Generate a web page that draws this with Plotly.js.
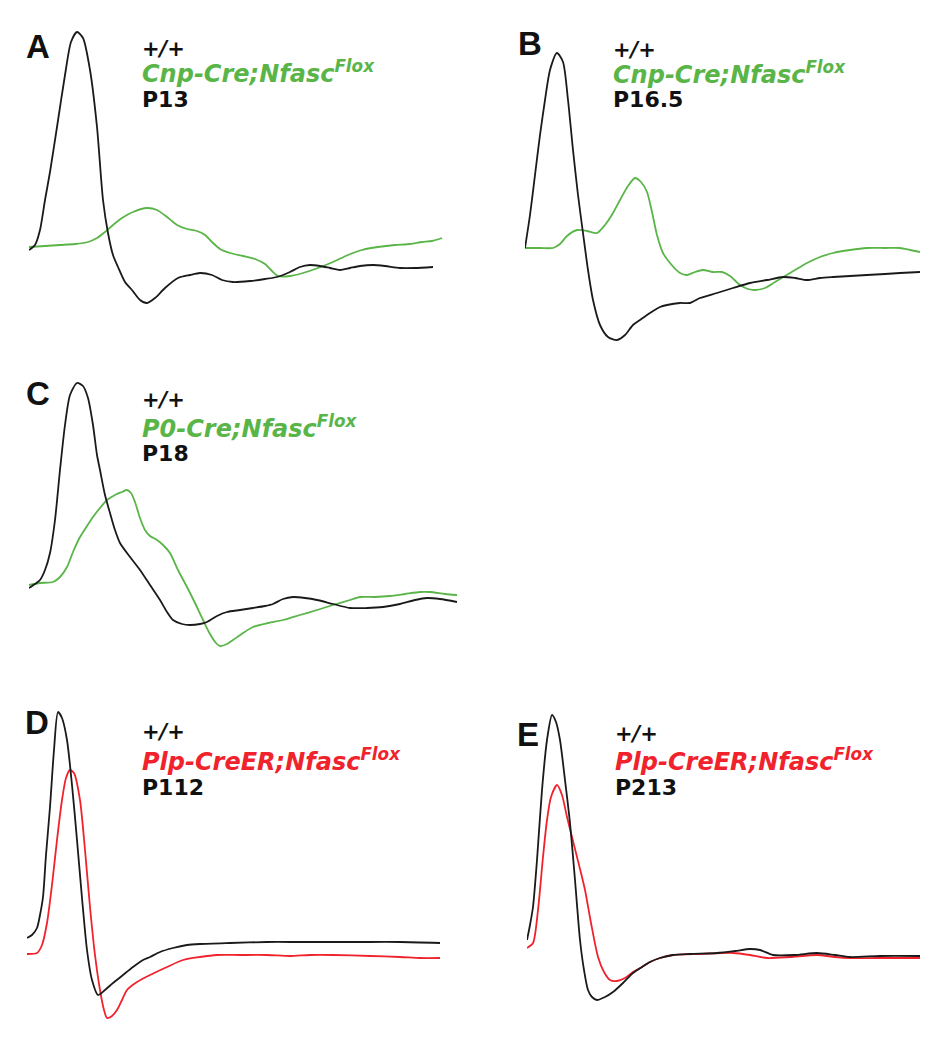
<!DOCTYPE html>
<html>
<head>
<meta charset="utf-8">
<script src="https://cdn.plot.ly/plotly-3.0.1.min.js"></script>
<style>html,body{margin:0;padding:0;background:#fff;}#chart{width:942px;height:1050px;}</style>
</head>
<body>
<div id="chart"></div>
<script>
// ---- Data (time in arbitrary units from stimulus, amplitude in arbitrary units relative to baseline) ----
// Panel A: +/+ vs Cnp-Cre;Nfasc Flox, P13
const tA_wt   = [0,6,11,16,21,28,36,42,48,54,61,68,74,79,84,89,96,103,111,118,126,136,149,161,171,183,193,204,221,236,248,261,271,281,291,301,311,321,331,344,356,371,386,404];
const vA_wt   = [0,5,20,50,78,123,175,208,218,212,180,123,50,17,-5,-17,-32,-40,-50,-53,-48,-38,-28,-25,-23,-25,-30,-32,-31,-29,-27,-22,-17,-15,-16,-18,-20,-18,-16,-15,-16,-18,-18,-17];
const tA_mut  = [0,16,31,46,59,68,76,84,93,104,118,128,138,148,158,168,176,183,191,201,214,226,236,243,249,261,274,289,304,319,333,349,366,381,393,403,413];
const vA_mut  = [3,4,5,6,8,12,18,25,32,38,42,40,33,25,21,19,15,8,1,-3,-6,-9,-14,-21,-26,-26,-23,-18,-12,-5,0,3,5,6,8,9,12];
// Panel B: P16.5
const tB_wt   = [0,5,10,15,20,25,32,38,43,48,53,58,63,68,75,83,92,100,108,115,125,135,142,155,165,175,192,208,225,242,258,270,282,295,308,325,342,360,375,395];
const vB_wt   = [0,33,73,113,148,178,195,186,148,98,53,15,-22,-52,-77,-89,-92,-87,-77,-72,-65,-59,-57,-55,-55,-50,-45,-40,-35,-32,-29,-30,-32,-30,-29,-28,-27,-26,-25,-24];
const tB_mut  = [0,15,28,35,42,52,62,72,80,88,95,103,110,116,122,127,132,138,145,155,162,170,178,188,197,205,215,223,230,240,250,260,270,282,295,308,325,342,360,375,385,395];
const vB_mut  = [0,0,0,4,12,18,17,15,23,35,48,62,70,66,56,36,13,-5,-15,-25,-27,-24,-22,-24,-24,-28,-37,-41,-42,-40,-34,-28,-22,-15,-9,-5,-2,0,0,0,-2,-4];
// Panel C: P0-Cre;Nfasc Flox, P18
const tC_wt   = [0,6,11,16,21,26,31,36,41,48,54,59,64,68,71,76,81,86,91,101,111,121,131,138,144,153,161,171,178,188,198,211,224,236,244,254,264,276,288,304,321,338,354,371,386,398,411,428];
const vC_wt   = [0,4,8,18,35,68,118,163,193,205,202,190,163,133,118,93,75,58,45,31,18,3,-12,-24,-32,-36,-37,-36,-34,-28,-24,-22,-20,-18,-16,-11,-9,-10,-12,-16,-20,-20,-19,-16,-12,-10,-11,-14];
const tC_mut  = [0,11,24,31,38,44,51,58,64,71,78,86,93,98,102,106,111,116,121,128,134,141,149,158,166,174,181,187,191,198,204,214,224,239,254,271,288,304,321,331,346,361,376,391,401,416,428];
const vC_mut  = [3,5,6,11,21,36,51,62,71,80,88,93,96,98,95,86,70,58,52,48,43,35,18,1,-15,-32,-46,-55,-58,-56,-52,-45,-39,-35,-32,-27,-22,-17,-12,-9,-9,-8,-6,-4,-4,-6,-7];
// Panel D: Plp-CreER;Nfasc Flox, P112
const tD_wt   = [0,5,10,13,16,19,23,27,31,35,40,45,50,55,60,65,71,78,86,96,106,116,123,133,146,160,173,203,240,273,306,343,373,413];
const vD_wt   = [0,3,10,23,41,83,131,188,226,220,198,153,98,40,-12,-42,-57,-52,-45,-37,-29,-22,-19,-14,-10,-7,-6,-5,-4,-4,-4,-4,-4,-5];
const tD_mut  = [0,10,15,20,25,30,35,39,43,47,53,58,63,68,73,77,80,85,90,95,100,110,123,140,156,173,190,213,240,263,283,306,343,373,393,413];
const vD_mut  = [-16,-15,-7,15,53,98,138,160,168,165,138,88,31,-17,-52,-72,-80,-78,-72,-62,-52,-44,-37,-29,-22,-19,-17,-17,-17,-18,-17,-17,-18,-19,-20,-20];
// Panel E: Plp-CreER;Nfasc Flox, P213
const tE_wt   = [0,3,6,10,15,20,25,29,33,38,43,48,53,57,61,65,70,78,86,96,106,115,123,133,146,163,190,208,223,233,246,268,290,308,323,353,393];
const vE_wt   = [0,15,33,80,150,200,225,218,200,160,117,60,0,-30,-50,-57,-60,-57,-52,-43,-33,-27,-22,-18,-15,-14,-13,-11,-9,-10,-15,-15,-13,-15,-17,-16,-16];
const tE_mut  = [0,6,11,16,20,24,30,35,40,45,50,54,58,64,71,77,83,90,98,106,115,123,133,146,173,206,223,240,263,290,308,323,353,393];
const vE_mut  = [-8,-3,30,83,120,143,155,145,123,103,83,67,50,17,-17,-32,-40,-41,-38,-32,-27,-22,-18,-15,-14,-13,-15,-18,-17,-15,-17,-18,-18,-18];

// Labels
const panelLetters = ["A","B","C","D","E"];
const wtLabel = "+/+";
const mutantLabels = ["Cnp-Cre;Nfasc","Cnp-Cre;Nfasc","P0-Cre;Nfasc","Plp-CreER;Nfasc","Plp-CreER;Nfasc"];
const mutantSup = "Flox";
const ages = ["P13","P16.5","P18","P112","P213"];

// ---- Layout frames (pixels) ----
const W = 942, H = 1050;
const GREEN = '#5ab548', RED = '#f0232d';
const frames = [
  {x0:29,  w:420, top:20,  bot:320,  base:250, tx:140, ty:[49,72,99],    lx:38,  ly:46,  mutColor:GREEN},
  {x0:525, w:410, top:20,  bot:360,  base:248, tx:611, ty:[50,73,99],    lx:530, ly:44,  mutColor:GREEN},
  {x0:29,  w:430, top:360, bot:660,  base:588, tx:140, ty:[400,427,454], lx:38,  ly:393, mutColor:GREEN},
  {x0:27,  w:420, top:690, bot:1040, base:938, tx:140, ty:[732,760,787], lx:37,  ly:722, mutColor:RED},
  {x0:527, w:400, top:690, bot:1040, base:940, tx:613, ty:[734,760,787], lx:528, ly:734, mutColor:RED}
];
const series = [
  [tA_wt,vA_wt,tA_mut,vA_mut],
  [tB_wt,vB_wt,tB_mut,vB_mut],
  [tC_wt,vC_wt,tC_mut,vC_mut],
  [tD_wt,vD_wt,tD_mut,vD_mut],
  [tE_wt,vE_wt,tE_mut,vE_mut]
];

const traces = [];
const layout = {
  width: W, height: H,
  margin: {l:0, r:0, t:0, b:0},
  paper_bgcolor: '#ffffff', plot_bgcolor: 'rgba(0,0,0,0)',
  showlegend: false,
  annotations: []
};

frames.forEach((f, i) => {
  const n = i === 0 ? '' : String(i + 1);
  const [tw, vw, tm, vm] = series[i];
  traces.push({x: tm, y: vm, xaxis: 'x' + n, yaxis: 'y' + n, type: 'scatter', mode: 'lines',
    line: {color: f.mutColor, width: 1.8, shape: 'spline', smoothing: 0.7}, hoverinfo: 'skip'});
  traces.push({x: tw, y: vw, xaxis: 'x' + n, yaxis: 'y' + n, type: 'scatter', mode: 'lines',
    line: {color: '#1a1a1a', width: 1.8, shape: 'spline', smoothing: 0.7}, hoverinfo: 'skip'});
  layout['xaxis' + n] = {domain: [f.x0 / W, (f.x0 + f.w) / W], range: [0, f.w], visible: false, anchor: 'y' + n, fixedrange: true};
  layout['yaxis' + n] = {domain: [1 - f.bot / H, 1 - f.top / H], range: [f.base - f.bot, f.base - f.top], visible: false, anchor: 'x' + n, fixedrange: true};

  const fam = 'DejaVu Sans, Liberation Sans, Arial, sans-serif';
  layout.annotations.push({xref:'paper', yref:'paper', x: f.lx / W, y: 1 - f.ly / H, xanchor:'center', yanchor:'middle',
    text: panelLetters[i], showarrow:false, font:{family:'Liberation Sans, Arial, sans-serif', size:33, color:'#111', weight:'bold'}});
  layout.annotations.push({xref:'paper', yref:'paper', x: f.tx / W, y: 1 - f.ty[0] / H, xanchor:'left', yanchor:'middle',
    text: wtLabel, showarrow:false, font:{family:fam, size:21, color:'#111', weight:'bold', style:'italic'}});
  layout.annotations.push({xref:'paper', yref:'paper', x: f.tx / W, y: 1 - f.ty[1] / H, xanchor:'left', yanchor:'middle',
    text: mutantLabels[i] + '<sup>' + mutantSup + '</sup>', showarrow:false, font:{family:fam, size:24, color:f.mutColor, weight:'bold', style:'italic'}});
  layout.annotations.push({xref:'paper', yref:'paper', x: f.tx / W, y: 1 - f.ty[2] / H, xanchor:'left', yanchor:'middle',
    text: ages[i], showarrow:false, font:{family:fam, size:22, color:'#111', weight:'bold'}});
});

Plotly.newPlot('chart', traces, layout, {staticPlot: true, displayModeBar: false});
</script>
</body>
</html>
